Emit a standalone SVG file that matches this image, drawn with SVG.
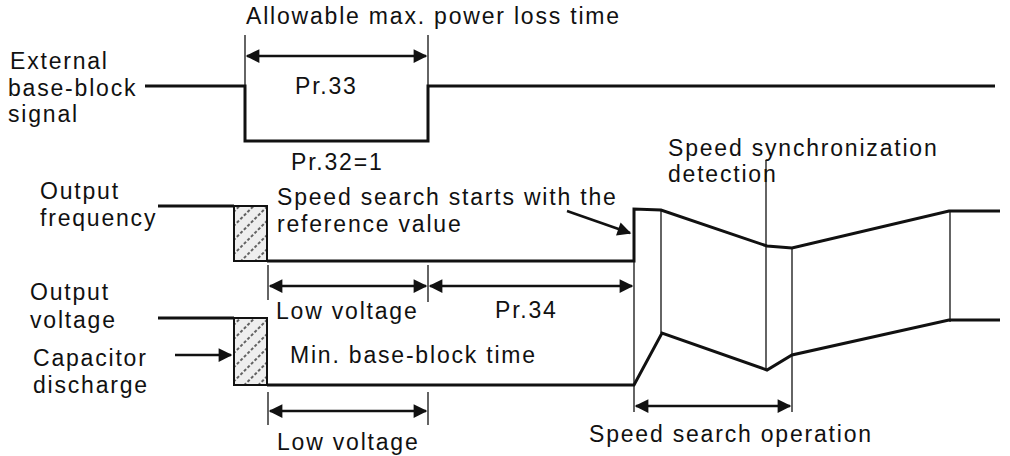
<svg xmlns="http://www.w3.org/2000/svg" width="1010" height="456" viewBox="0 0 1010 456">
<style>
text{font-family:"Liberation Sans",Arial,sans-serif;font-size:23px;letter-spacing:1.8px;fill:#111}
.s{fill:none;stroke:#111;stroke-width:3}
.t{fill:none;stroke:#111;stroke-width:1.3}
.a{fill:none;stroke:#111;stroke-width:2.5;marker-start:url(#ah);marker-end:url(#ah)}
.b{fill:url(#hatch);stroke:#111;stroke-width:2}
</style>
<defs>
<marker id="ah" viewBox="0 0 10 10" refX="9" refY="5" markerWidth="7" markerHeight="5.5" orient="auto-start-reverse" markerUnits="strokeWidth"><path d="M0,0L10,5L0,10z" fill="#111"/></marker>
<pattern id="hatch" width="10" height="10" patternUnits="userSpaceOnUse" patternTransform="rotate(-45)"><rect width="10" height="10" fill="#eee"/><line x1="0" y1="5" x2="10" y2="5" stroke="#333" stroke-width="1.5" stroke-dasharray="3 2"/></pattern>
</defs>
<rect width="1010" height="456" fill="#fff"/>
<g id="labels">
<text x="246" y="24">Allowable max. power loss time</text>
<text x="10" y="69">External</text>
<text x="8" y="96">base-block</text>
<text x="8" y="122">signal</text>
<text x="295" y="94">Pr.33</text>
<text x="291" y="170">Pr.32=1</text>
<text x="668" y="156">Speed synchronization</text>
<text x="668" y="182">detection</text>
<text x="40" y="199">Output</text>
<text x="40" y="226">frequency</text>
<text x="277" y="205">Speed search starts with the</text>
<text x="277" y="232">reference value</text>
<text x="30" y="300">Output</text>
<text x="30" y="328">voltage</text>
<text x="276" y="319">Low voltage</text>
<text x="495" y="318">Pr.34</text>
<text x="33" y="366">Capacitor</text>
<text x="33" y="393">discharge</text>
<text x="290" y="363">Min. base-block time</text>
<text x="277" y="450">Low voltage</text>
<text x="589" y="442">Speed search operation</text>
</g>
<g id="signal">
<polyline class="s" points="145,86 245,86 245,141 428,141 428,86 995,86"/>
<polyline class="s" points="158,206 234,206"/>
<rect class="b" x="234" y="206" width="33" height="55"/>
<polyline class="s" points="267,261 634,261 634,209 661,210 767,246 792,248 949,211 1000,211"/>
<polyline class="s" points="158,318 234,318"/>
<rect class="b" x="234" y="318" width="33" height="67"/>
<polyline class="s" points="267,385 634,385 662,333 767,370 792,355 949,320 1000,320"/>
</g>
<g id="connectors">
<line class="t" x1="245" y1="35" x2="245" y2="86"/>
<line class="t" x1="428" y1="35" x2="428" y2="86"/>
<line class="a" x1="247" y1="56" x2="426" y2="56"/>
<line class="t" x1="268" y1="265" x2="268" y2="300"/>
<line class="t" x1="428" y1="265" x2="428" y2="302"/>
<line class="a" x1="270" y1="286" x2="426" y2="286"/>
<line class="a" x1="430" y1="286" x2="632" y2="286"/>
<line class="t" x1="268" y1="392" x2="268" y2="425"/>
<line class="t" x1="428" y1="392" x2="428" y2="425"/>
<line class="a" x1="270" y1="411" x2="426" y2="411"/>
<line class="t" x1="634" y1="261" x2="634" y2="412"/>
<line class="t" x1="661" y1="210" x2="661" y2="333"/>
<line class="t" x1="766" y1="160" x2="766" y2="370"/>
<line class="t" x1="792" y1="248" x2="792" y2="412"/>
<line class="t" x1="950" y1="211" x2="950" y2="322"/>
<line class="a" x1="636" y1="406" x2="790" y2="406"/>
<line class="s" x1="567" y1="211" x2="630" y2="233" marker-end="url(#ah)" style="stroke-width:2.5"/>
<line class="s" x1="175" y1="355" x2="231" y2="355" marker-end="url(#ah)" style="stroke-width:2.5"/>
</g>
</svg>
